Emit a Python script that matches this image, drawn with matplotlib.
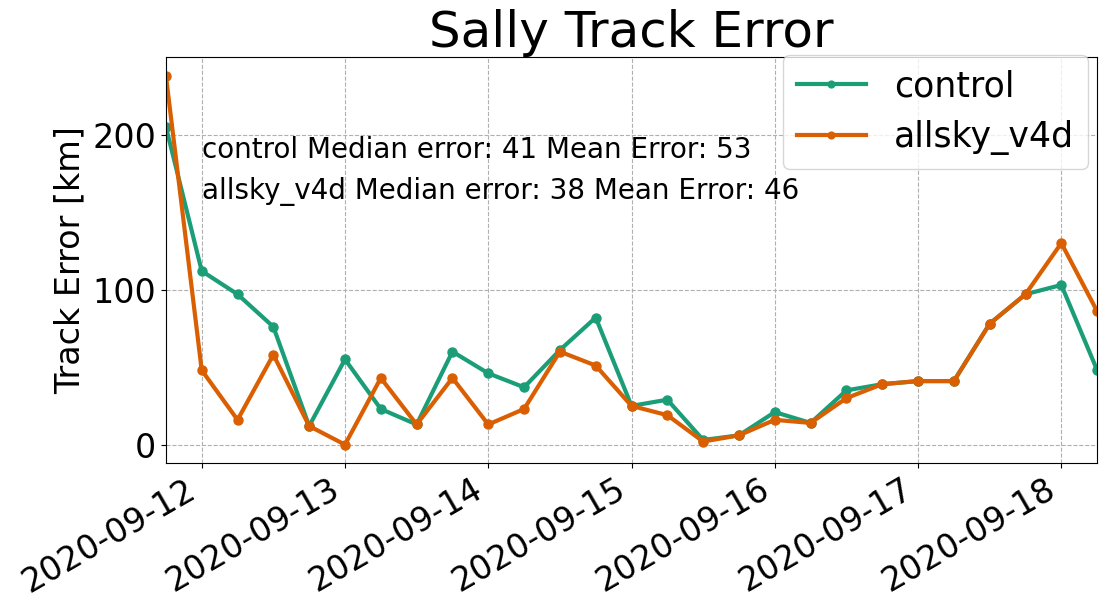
import numpy as np
import pandas as pd
import matplotlib
matplotlib.use("Agg")
import matplotlib.pyplot as plt
import matplotlib.dates as mdates

# 6-hourly verification times
times = pd.date_range("2020-09-11 18:00", "2020-09-18 06:00", freq="6h")

control = [205, 112, 97, 76, 12, 55, 23, 13, 60, 46, 37, 61, 82, 25,
           29, 3, 6, 21, 14, 35, 39, 41, 41, 78, 97, 103, 48]
allsky_v4d = [238, 48, 16, 58, 12, 0, 43, 13, 43, 13, 23, 60, 51, 25,
              19, 2, 6, 16, 14, 30, 39, 41, 41, 78, 97, 130, 86]

stats_lines = [
    "control Median error: 41 Mean Error: 53",
    "allsky_v4d Median error: 38 Mean Error: 46",
]

fig, ax = plt.subplots(figsize=(11.06, 6.15), dpi=100)
ax.plot(times, control, "-o", color="#1b9e77", lw=3, ms=6.5, label="control")
ax.plot(times, allsky_v4d, "-o", color="#d95f02", lw=3, ms=6.5, label="allsky_v4d")

ax.set_xlim(times[0], times[-1])
ax.xaxis.set_major_locator(mdates.DayLocator())
ax.xaxis.set_major_formatter(mdates.DateFormatter("%Y-%m-%d"))
ax.tick_params(labelsize=24)
plt.setp(ax.get_xticklabels(), rotation=30, ha="right")
ax.set_yticks([0, 100, 200])
ax.grid(True, ls="--", color="#b0b0b0", lw=0.8)

ax.set_title("Sally Track Error", fontsize=36)
ax.set_ylabel("Track Error [km]", fontsize=24)

ax.text(pd.Timestamp("2020-09-12"), 190, stats_lines[0], fontsize=20, va="center")
ax.text(pd.Timestamp("2020-09-12"), 163, stats_lines[1], fontsize=20, va="center")

ax.legend(fontsize=25, loc="upper right", bbox_to_anchor=(0.99, 1.005),
          borderaxespad=0.0, markerscale=0.75, handlelength=2.0)

fig.subplots_adjust(left=0.150, right=0.992, top=0.907, bottom=0.247)
fig.savefig("out.png", dpi=100)
